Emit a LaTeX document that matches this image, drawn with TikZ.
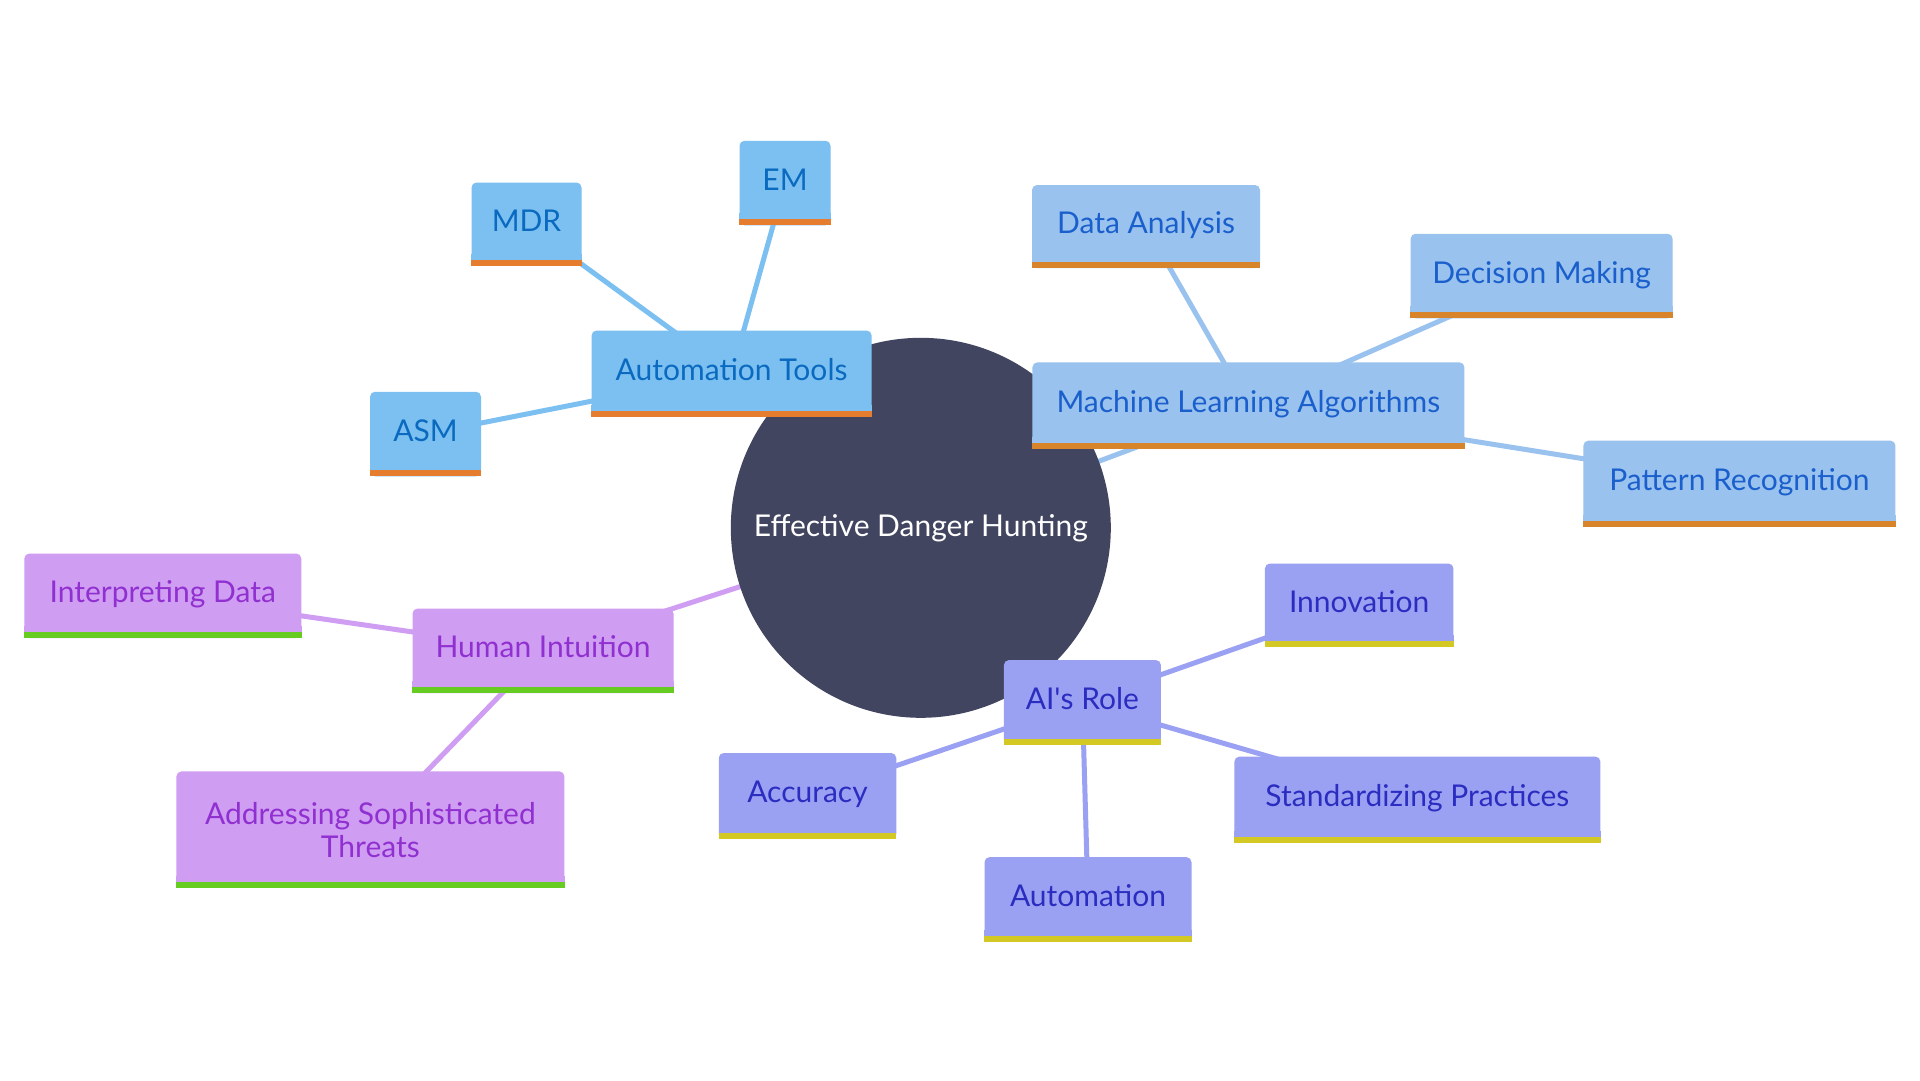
\documentclass[tikz,border=0pt]{standalone}
\usepackage{fontspec}
\setmainfont{Lato}
\definecolor{atF}{HTML}{7CC0F1}
\definecolor{atT}{HTML}{0A6AC0}
\definecolor{atB}{HTML}{E57C2E}
\definecolor{mlF}{HTML}{99C2EE}
\definecolor{mlT}{HTML}{1A5FCC}
\definecolor{mlB}{HTML}{D8842A}
\definecolor{hiF}{HTML}{CF9DF2}
\definecolor{hiT}{HTML}{9130D0}
\definecolor{hiB}{HTML}{66CC22}
\definecolor{aiF}{HTML}{9BA1F2}
\definecolor{aiT}{HTML}{2B2DC0}
\definecolor{aiB}{HTML}{D4C924}
\definecolor{hubF}{HTML}{414560}
\pgfdeclarelayer{bg}
\pgfdeclarelayer{edges}
\pgfdeclarelayer{hublayer}
\pgfsetlayers{bg,edges,hublayer,main}
\begin{document}
\begin{tikzpicture}[x=1pt,y=-1pt,
  box/.style={rectangle, rounded corners=5pt, inner sep=0pt, align=center,
    font=\fontsize{30}{33}\selectfont},
  one/.style={text height=24pt, text depth=10pt},
  gAT/.style={box, fill=atF, text=atT},
  gML/.style={box, fill=mlF, text=mlT},
  gHI/.style={box, fill=hiF, text=hiT},
  gAI/.style={box, fill=aiF, text=aiT},
  link/.style={line width=5pt},
  hubstyle/.style={circle, fill=hubF, text=white, minimum size=380pt, inner sep=0pt,
    font=\fontsize{30}{33}\selectfont}
]
\begin{pgfonlayer}{bg}
\fill[white] (0,0) rectangle (1920,1080);
\end{pgfonlayer}
\useasboundingbox (0,0) rectangle (1920,1080);

\begin{pgfonlayer}{hublayer}
\node[hubstyle] (hub) at (920.8,527.8) {Effective Danger Hunting};
\end{pgfonlayer}

% Automation Tools group
\node[gAT, one, minimum width=280pt, minimum height=86pt] (at) at (731.6,373.5) {Automation Tools};
\node[gAT, one, minimum width=110pt, minimum height=83pt] (mdr) at (526.5,224) {MDR};
\node[gAT, one, minimum width=91pt, minimum height=84.5pt] (em) at (785,183) {EM};
\node[gAT, one, minimum width=111pt, minimum height=84.5pt] (asm) at (425.5,434) {ASM};
% Machine Learning group
\node[gML, one, minimum width=432pt, minimum height=86pt] (ml) at (1248.4,405.3) {Machine Learning Algorithms};
\node[gML, one, minimum width=228pt, minimum height=83pt] (da) at (1146,226.5) {Data Analysis};
\node[gML, one, minimum width=262pt, minimum height=84.5pt] (dm) at (1541.6,276) {Decision Making};
\node[gML, one, minimum width=312pt, minimum height=86pt] (pr) at (1739.4,483.6) {Pattern Recognition};
% Human Intuition group
\node[gHI, one, minimum width=261pt, minimum height=84.5pt] (hi) at (543,650.8) {Human Intuition};
\node[gHI, one, minimum width=277pt, minimum height=84.5pt] (id) at (162.8,595.8) {Interpreting Data};
\node[gHI, minimum width=388pt, minimum height=116.4pt] (ast) at (370.4,829.6) {Addressing Sophisticated\\Threats};
% AI's Role group
\node[gAI, one, minimum width=157pt, minimum height=84.5pt] (ai) at (1082.4,702.3) {AI\textquotesingle s Role};
\node[gAI, one, minimum width=188.5pt, minimum height=83pt] (inn) at (1359.2,605) {Innovation};
\node[gAI, one, minimum width=366pt, minimum height=86pt] (sp) at (1417.4,799.6) {Standardizing Practices};
\node[gAI, one, minimum width=177.5pt, minimum height=85.8pt] (acc) at (807.5,795.9) {Accuracy};
\node[gAI, one, minimum width=207pt, minimum height=84.5pt] (aut) at (1088,899.4) {Automation};

% bottom bars
\foreach \n/\f/\b in {at/atF/atB, mdr/atF/atB, em/atF/atB, asm/atF/atB,
  ml/mlF/mlB, da/mlF/mlB, dm/mlF/mlB, pr/mlF/mlB,
  hi/hiF/hiB, id/hiF/hiB, ast/hiF/hiB,
  ai/aiF/aiB, inn/aiF/aiB, sp/aiF/aiB, acc/aiF/aiB, aut/aiF/aiB}{
  \fill[\f] ([yshift=12pt]\n.south west) rectangle (\n.south east);
  \fill[\b] ([yshift=6pt]\n.south west) rectangle (\n.south east);
}

% connectors
\begin{pgfonlayer}{edges}
\draw[link, atF] (hub.center) -- (at.center);
\draw[link, mlF] (hub.center) -- (ml.center);
\draw[link, hiF] (hub.center) -- (hi.center);
\draw[link, aiF] (hub.center) -- (ai.center);
\draw[link, atF] (at.center) -- (mdr.center);
\draw[link, atF] (at.center) -- (em.center);
\draw[link, atF] (at.center) -- (asm.center);
\draw[link, mlF] (ml.center) -- (da.center);
\draw[link, mlF] (ml.center) -- (dm.center);
\draw[link, mlF] (ml.center) -- (pr.center);
\draw[link, hiF] (hi.center) -- (id.center);
\draw[link, hiF] (hi.center) -- (ast.center);
\draw[link, aiF] (ai.center) -- (inn.center);
\draw[link, aiF] (ai.center) -- (sp.center);
\draw[link, aiF] (ai.center) -- (acc.center);
\draw[link, aiF] (ai.center) -- (aut.center);
\end{pgfonlayer}
\end{tikzpicture}
\end{document}
